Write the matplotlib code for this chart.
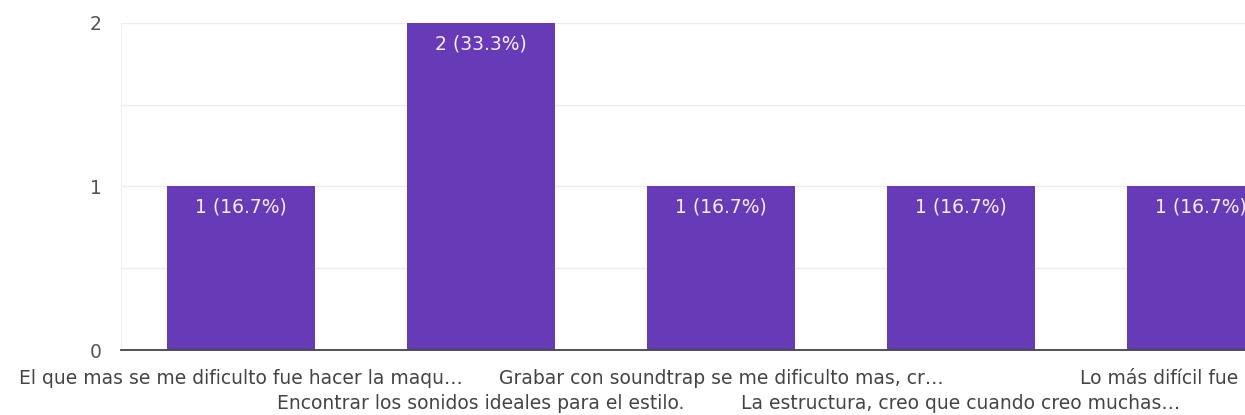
import matplotlib.pyplot as plt
from matplotlib.transforms import ScaledTranslation

answers = [
    'El que mas se me dificulto fue hacer la maqu…',
    'Encontrar los sonidos ideales para el estilo.',
    'Grabar con soundtrap se me dificulto mas, cr…',
    'La estructura, creo que cuando creo muchas…',
    'Lo más difícil fue el ritmo.',
]
counts = [1, 2, 1, 1, 1]
shares = [16.7, 33.3, 16.7, 16.7, 16.7]

purple = '#673ab7'
font_size = 13.5

fig = plt.figure(figsize=(12.45, 4.15), dpi=100)
# the plot runs past the right edge of the picture, like the cropped screenshot
ax = fig.add_axes([121 / 1245, 65 / 415, 1200 / 1245, 327 / 415])

xs = list(range(len(answers)))
bars = ax.bar(xs, counts, width=0.615, color=purple, zorder=3)

for bar, n, pct in zip(bars, counts, shares):
    ax.annotate(f'{n} ({pct}%)', (bar.get_x() + bar.get_width() / 2, bar.get_height()),
                xytext=(0, -8), textcoords='offset points', ha='center', va='top',
                color='#f4efff', fontsize=font_size, zorder=4)

ax.set_xlim(-0.5, len(answers) - 0.5)
ax.set_ylim(0, 2)
ax.set_yticks([0, 1, 2])
ax.set_yticks([0.5, 1.5], minor=True)
ax.grid(axis='y', which='both', color='#ececec', linewidth=1, zorder=0)

ax.set_xticks(xs)
ax.set_xticklabels(answers, fontsize=font_size, color='#444444')
ax.tick_params(axis='x', length=0, pad=13.5)
ax.tick_params(axis='y', which='both', length=0, pad=14, labelsize=font_size, labelcolor='#555555')

# stagger the long answers on two rows
drop = ScaledTranslation(0, -0.25, fig.dpi_scale_trans)
for i, lab in enumerate(ax.get_xticklabels()):
    if i % 2 == 1:
        lab.set_transform(lab.get_transform() + drop)

for side in ['top', 'right']:
    ax.spines[side].set_visible(False)
ax.spines['left'].set_color('#f0f0f0')
ax.spines['bottom'].set_color('#444444')
ax.spines['bottom'].set_linewidth(1.3)
ax.spines['bottom'].set_zorder(5)

fig.savefig('out.png', dpi=100)
